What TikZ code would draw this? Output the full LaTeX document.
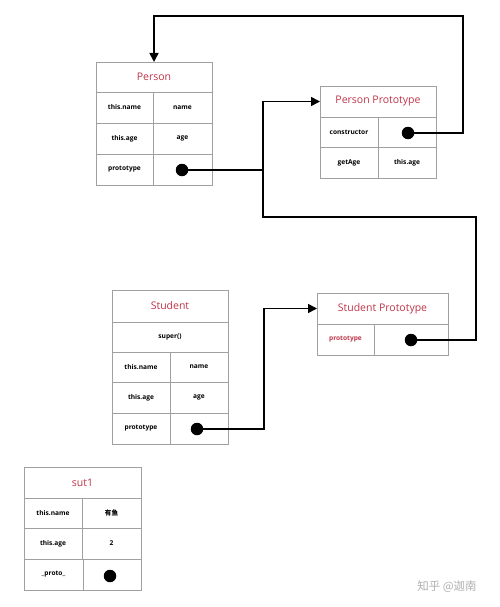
\documentclass[tikz,border=0pt]{standalone}
\usepackage{fontspec}
\setmainfont{Open Sans}
\newfontfamily\cjkfont{Noto Sans CJK SC}
\usetikzlibrary{arrows.meta}
\definecolor{titlered}{RGB}{192,52,72}
\definecolor{boxgray}{RGB}{160,160,160}
\definecolor{wmgray}{RGB}{175,175,175}
\tikzset{
  cell/.style 2 args={draw=boxgray, line width=0.8pt, rectangle, anchor=north west,
    minimum width=#1pt, minimum height=#2pt, inner sep=0pt, outer sep=0pt,
    font=\fontsize{6.6}{8}\selectfont\bfseries},
  ttl/.style={font=\fontsize{10.5}{12}\selectfont, text=titlered},
  dotnode/.style={circle, fill=black, minimum size=12.5pt, inner sep=0pt},
  conn/.style={line width=1.6pt, draw=black},
  arr/.style={-{Triangle[length=9pt,width=9pt]}}
}
\begin{document}
\begin{tikzpicture}[x=1pt,y=-1pt]
\useasboundingbox (0,0) rectangle (500,607);
% Person
\node[cell={116}{30}, ttl] (p-title) at (96,62) {Person};
\node[cell={57}{31}] (p-n1) at (96,92) {this.name};
\node[cell={59}{31}] (p-n2) at (153,92) {name};
\node[cell={57}{31}] (p-a1) at (96,123) {this.age};
\node[cell={59}{31}] (p-a2) at (153,123) {age};
\node[cell={57}{31}] (p-p1) at (96,154) {prototype};
\node[cell={59}{31}] (p-p2) at (153,154) {};
\node[dotnode] (pd) at (182,170) {};
% Person Prototype
\node[cell={116}{31}, ttl] (pp-title) at (320,86) {Person Prototype};
\node[cell={58}{30}] (pp-c1) at (320,117) {constructor};
\node[cell={58}{30}] (pp-c2) at (378,117) {};
\node[cell={58}{31}] (pp-g1) at (320,147) {getAge};
\node[cell={58}{31}] (pp-g2) at (378,147) {this.age};
\node[dotnode] (cd) at (408,133) {};
% Student
\node[cell={116}{32}, ttl] (s-title) at (112,290) {Student};
\node[cell={116}{30}] (s-super) at (112,322) {super()};
\node[cell={58}{30}] (s-n1) at (112,352) {this.name};
\node[cell={58}{30}] (s-n2) at (170,352) {name};
\node[cell={58}{31}] (s-a1) at (112,382) {this.age};
\node[cell={58}{31}] (s-a2) at (170,382) {age};
\node[cell={58}{31}] (s-p1) at (112,413) {prototype};
\node[cell={58}{31}] (s-p2) at (170,413) {};
\node[dotnode] (sd) at (197,429) {};
% Student Prototype
\node[cell={131}{31}, ttl] (sp-title) at (317,293) {Student Prototype};
\node[cell={57}{31}, text=titlered] (sp-p1) at (317,324) {prototype};
\node[cell={74}{31}] (sp-p2) at (374,324) {};
\node[dotnode] (spd) at (411,340) {};
% sut1
\node[cell={117}{31}, ttl] (u-title) at (24,467) {sut1};
\node[cell={58}{30}] (u-n1) at (24,498) {this.name};
\node[cell={59}{30}] (u-n2) at (82,498) {\cjkfont\bfseries 有鱼};
\node[cell={58}{31}] (u-a1) at (24,528) {this.age};
\node[cell={59}{31}] (u-a2) at (82,528) {2};
\node[cell={59}{31}] (u-p1) at (24,559) {\_proto\_};
\node[cell={58}{31}] (u-p2) at (83,559) {};
\node[dotnode] (ud) at (110,576) {};
% bend points
\coordinate (c1) at (463,16);
\coordinate (j1) at (263,170);
\coordinate (b1) at (476,217);
\coordinate (s1) at (264,429);
% connectors
\draw[conn,arr] (cd.center) -| (c1) -| (p-title.north);
\draw[conn,arr] (pd.center) -- (j1) |- (pp-title.west);
\draw[conn] (spd.center) -| (b1) -| (j1);
\draw[conn,arr] (sd.center) -- (s1) |- (sp-title.west);
% watermark
\node[font=\cjkfont\fontsize{11.5}{13}\selectfont, text=wmgray] (wm) at (447,587) {知乎 @迦南};
\end{tikzpicture}
\end{document}
